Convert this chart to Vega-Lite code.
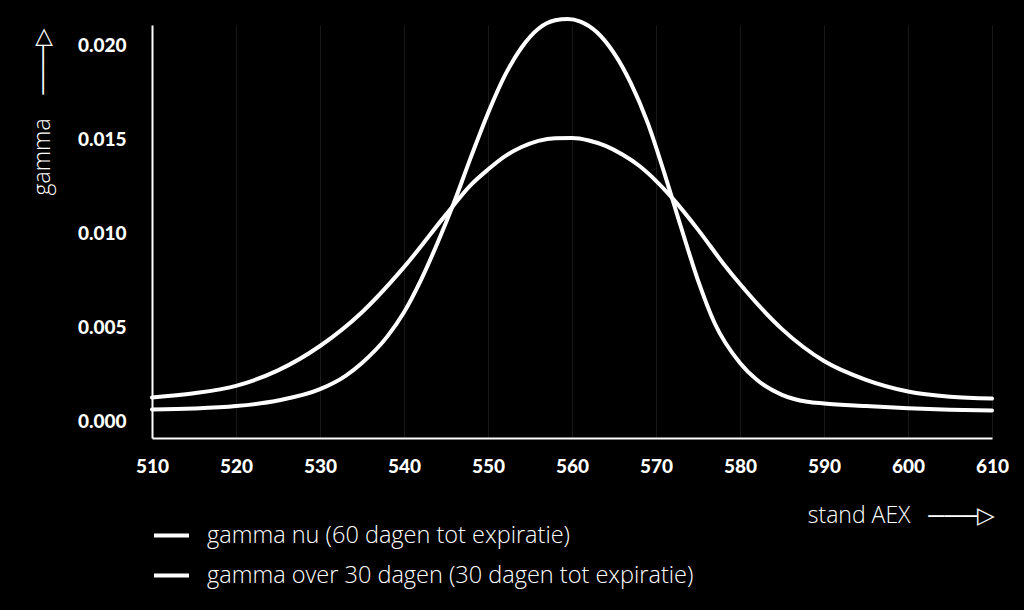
{
  "$schema": "https://vega.github.io/schema/vega-lite/v6.json",
  "autosize": {"type": "none"},
  "padding": {"left": 152, "top": 25, "right": 32, "bottom": 172},
  "width": 840,
  "height": 413,
  "background": "#000000",
  "config": {"view": {"stroke": null}},
  "data": {"values": [
    {"stand": 510, "gamma": 0.00126, "serie": "gamma nu (60 dagen tot expiratie)"},
    {"stand": 515, "gamma": 0.00148, "serie": "gamma nu (60 dagen tot expiratie)"},
    {"stand": 520, "gamma": 0.00188, "serie": "gamma nu (60 dagen tot expiratie)"},
    {"stand": 525, "gamma": 0.0027, "serie": "gamma nu (60 dagen tot expiratie)"},
    {"stand": 530, "gamma": 0.0040, "serie": "gamma nu (60 dagen tot expiratie)"},
    {"stand": 535, "gamma": 0.0058, "serie": "gamma nu (60 dagen tot expiratie)"},
    {"stand": 540, "gamma": 0.0082, "serie": "gamma nu (60 dagen tot expiratie)"},
    {"stand": 545, "gamma": 0.0110, "serie": "gamma nu (60 dagen tot expiratie)"},
    {"stand": 548, "gamma": 0.0126, "serie": "gamma nu (60 dagen tot expiratie)"},
    {"stand": 550, "gamma": 0.0134, "serie": "gamma nu (60 dagen tot expiratie)"},
    {"stand": 552, "gamma": 0.0141, "serie": "gamma nu (60 dagen tot expiratie)"},
    {"stand": 554, "gamma": 0.0146, "serie": "gamma nu (60 dagen tot expiratie)"},
    {"stand": 556, "gamma": 0.01493, "serie": "gamma nu (60 dagen tot expiratie)"},
    {"stand": 558, "gamma": 0.01507, "serie": "gamma nu (60 dagen tot expiratie)"},
    {"stand": 560, "gamma": 0.01508, "serie": "gamma nu (60 dagen tot expiratie)"},
    {"stand": 562, "gamma": 0.01495, "serie": "gamma nu (60 dagen tot expiratie)"},
    {"stand": 564, "gamma": 0.01466, "serie": "gamma nu (60 dagen tot expiratie)"},
    {"stand": 566, "gamma": 0.0142, "serie": "gamma nu (60 dagen tot expiratie)"},
    {"stand": 568, "gamma": 0.0136, "serie": "gamma nu (60 dagen tot expiratie)"},
    {"stand": 570, "gamma": 0.0128, "serie": "gamma nu (60 dagen tot expiratie)"},
    {"stand": 572, "gamma": 0.01185, "serie": "gamma nu (60 dagen tot expiratie)"},
    {"stand": 575, "gamma": 0.0102, "serie": "gamma nu (60 dagen tot expiratie)"},
    {"stand": 578, "gamma": 0.0084, "serie": "gamma nu (60 dagen tot expiratie)"},
    {"stand": 580, "gamma": 0.0073, "serie": "gamma nu (60 dagen tot expiratie)"},
    {"stand": 585, "gamma": 0.0049, "serie": "gamma nu (60 dagen tot expiratie)"},
    {"stand": 590, "gamma": 0.0032, "serie": "gamma nu (60 dagen tot expiratie)"},
    {"stand": 595, "gamma": 0.0022, "serie": "gamma nu (60 dagen tot expiratie)"},
    {"stand": 600, "gamma": 0.00158, "serie": "gamma nu (60 dagen tot expiratie)"},
    {"stand": 605, "gamma": 0.0013, "serie": "gamma nu (60 dagen tot expiratie)"},
    {"stand": 610, "gamma": 0.0012, "serie": "gamma nu (60 dagen tot expiratie)"},
    {"stand": 510, "gamma": 0.00062, "serie": "gamma over 30 dagen (30 dagen tot expiratie)"},
    {"stand": 515, "gamma": 0.00067, "serie": "gamma over 30 dagen (30 dagen tot expiratie)"},
    {"stand": 520, "gamma": 0.0008, "serie": "gamma over 30 dagen (30 dagen tot expiratie)"},
    {"stand": 525, "gamma": 0.0011, "serie": "gamma over 30 dagen (30 dagen tot expiratie)"},
    {"stand": 530, "gamma": 0.0017, "serie": "gamma over 30 dagen (30 dagen tot expiratie)"},
    {"stand": 533, "gamma": 0.0024, "serie": "gamma over 30 dagen (30 dagen tot expiratie)"},
    {"stand": 535, "gamma": 0.0031, "serie": "gamma over 30 dagen (30 dagen tot expiratie)"},
    {"stand": 538, "gamma": 0.0045, "serie": "gamma over 30 dagen (30 dagen tot expiratie)"},
    {"stand": 540, "gamma": 0.0058, "serie": "gamma over 30 dagen (30 dagen tot expiratie)"},
    {"stand": 542, "gamma": 0.0075, "serie": "gamma over 30 dagen (30 dagen tot expiratie)"},
    {"stand": 544, "gamma": 0.0095, "serie": "gamma over 30 dagen (30 dagen tot expiratie)"},
    {"stand": 546, "gamma": 0.0117, "serie": "gamma over 30 dagen (30 dagen tot expiratie)"},
    {"stand": 548, "gamma": 0.0141, "serie": "gamma over 30 dagen (30 dagen tot expiratie)"},
    {"stand": 550, "gamma": 0.0164, "serie": "gamma over 30 dagen (30 dagen tot expiratie)"},
    {"stand": 552, "gamma": 0.0184, "serie": "gamma over 30 dagen (30 dagen tot expiratie)"},
    {"stand": 554, "gamma": 0.0199, "serie": "gamma over 30 dagen (30 dagen tot expiratie)"},
    {"stand": 556, "gamma": 0.0209, "serie": "gamma over 30 dagen (30 dagen tot expiratie)"},
    {"stand": 558, "gamma": 0.02135, "serie": "gamma over 30 dagen (30 dagen tot expiratie)"},
    {"stand": 559.5, "gamma": 0.02142, "serie": "gamma over 30 dagen (30 dagen tot expiratie)"},
    {"stand": 561, "gamma": 0.02128, "serie": "gamma over 30 dagen (30 dagen tot expiratie)"},
    {"stand": 563, "gamma": 0.0207, "serie": "gamma over 30 dagen (30 dagen tot expiratie)"},
    {"stand": 565, "gamma": 0.0196, "serie": "gamma over 30 dagen (30 dagen tot expiratie)"},
    {"stand": 567, "gamma": 0.0180, "serie": "gamma over 30 dagen (30 dagen tot expiratie)"},
    {"stand": 569, "gamma": 0.0159, "serie": "gamma over 30 dagen (30 dagen tot expiratie)"},
    {"stand": 571, "gamma": 0.0132, "serie": "gamma over 30 dagen (30 dagen tot expiratie)"},
    {"stand": 573, "gamma": 0.0103, "serie": "gamma over 30 dagen (30 dagen tot expiratie)"},
    {"stand": 575, "gamma": 0.0075, "serie": "gamma over 30 dagen (30 dagen tot expiratie)"},
    {"stand": 577, "gamma": 0.0052, "serie": "gamma over 30 dagen (30 dagen tot expiratie)"},
    {"stand": 580, "gamma": 0.0031, "serie": "gamma over 30 dagen (30 dagen tot expiratie)"},
    {"stand": 582, "gamma": 0.0022, "serie": "gamma over 30 dagen (30 dagen tot expiratie)"},
    {"stand": 585, "gamma": 0.0014, "serie": "gamma over 30 dagen (30 dagen tot expiratie)"},
    {"stand": 588, "gamma": 0.00103, "serie": "gamma over 30 dagen (30 dagen tot expiratie)"},
    {"stand": 590, "gamma": 0.00094, "serie": "gamma over 30 dagen (30 dagen tot expiratie)"},
    {"stand": 595, "gamma": 0.0008, "serie": "gamma over 30 dagen (30 dagen tot expiratie)"},
    {"stand": 600, "gamma": 0.00068, "serie": "gamma over 30 dagen (30 dagen tot expiratie)"},
    {"stand": 605, "gamma": 0.0006, "serie": "gamma over 30 dagen (30 dagen tot expiratie)"},
    {"stand": 610, "gamma": 0.00056, "serie": "gamma over 30 dagen (30 dagen tot expiratie)"}
  ]},
  "mark": {"type": "line", "interpolate": "monotone", "strokeWidth": 4, "strokeCap": "round", "clip": false},
  "encoding": {
    "x": {
      "field": "stand", "type": "quantitative",
      "scale": {"domain": [510, 610], "nice": false, "zero": false},
      "axis": {
        "title": "stand AEX\u00a0\u00a0\u00a0───▷",
        "titleColor": "#ffffff", "titleFont": "Open Sans", "titleFontWeight": 300, "titleFontSize": 23,
        "titleX": 749, "titleY": 77, "titleAlign": "center", "titleBaseline": "middle", "titleAnchor": null,
        "values": [510, 520, 530, 540, 550, 560, 570, 580, 590, 600, 610],
        "labelColor": "#ffffff", "labelFont": "Lato", "labelFontWeight": 900, "labelFontSize": 19,
        "labelPadding": 19, "labelFlush": false, "labelOverlap": false,
        "ticks": false,
        "domainColor": "#ffffff", "domainWidth": 2,
        "grid": true, "gridColor": "#1a1a1a", "gridWidth": 1
      }
    },
    "y": {
      "field": "gamma", "type": "quantitative",
      "scale": {"domain": [-0.0009, 0.0211], "nice": false, "zero": false},
      "axis": {
        "title": "gamma\u00a0\u00a0\u00a0\u00a0───▷",
        "titleColor": "#ffffff", "titleFont": "Open Sans", "titleFontWeight": 300, "titleFontSize": 23,
        "titleX": -110, "titleY": 86, "titleAngle": -90, "titleAlign": "center", "titleBaseline": "middle", "titleAnchor": null,
        "values": [0, 0.005, 0.01, 0.015, 0.02],
        "format": ".3f",
        "labelColor": "#ffffff", "labelFont": "Lato", "labelFontWeight": 900, "labelFontSize": 19,
        "labelPadding": 26,
        "ticks": false,
        "domainColor": "#ffffff", "domainWidth": 2,
        "grid": false
      }
    },
    "color": {
      "field": "serie", "type": "nominal",
      "scale": {"domain": ["gamma nu (60 dagen tot expiratie)", "gamma over 30 dagen (30 dagen tot expiratie)"], "range": ["#ffffff", "#ffffff"]},
      "legend": {
        "title": null, "orient": "none", "legendX": 0, "legendY": 491,
        "symbolType": "stroke", "symbolSize": 1225, "symbolStrokeWidth": 4, "symbolStrokeColor": "#ffffff",
        "labelColor": "#ffffff", "labelFont": "Open Sans", "labelFontWeight": 300, "labelFontSize": 23.5,
        "labelOffset": 16, "rowPadding": 9, "labelLimit": 700
      }
    }
  }
}
